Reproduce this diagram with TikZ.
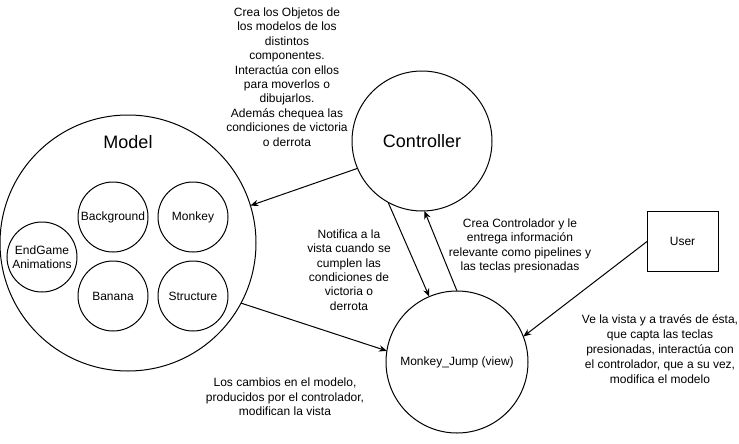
\documentclass[tikz,border=0pt]{standalone}
\usepackage{fontspec}
\setmainfont{Liberation Sans}
\usetikzlibrary{arrows.meta}
\begin{document}
\begin{tikzpicture}[x=0.75pt,y=-0.75pt,
  every node/.style={inner sep=0pt,outer sep=0pt},
  ln/.style={line width=0.75pt,draw=black},
  arr/.style={ln,-{Stealth[length=6pt,width=4.8pt]}},
  bigcircle/.style={circle,ln,font=\fontsize{13.5}{16}\selectfont},
  smallcircle/.style={circle,ln,minimum size=52.5pt,font=\fontsize{9}{10.8}\selectfont,align=center},
  note/.style={align=center,font=\fontsize{9}{10.8}\selectfont}]
\useasboundingbox (0,0) rectangle (739,443);
% Model
\node[circle,ln,minimum size=192pt] (model) at (128,243) {};
\node[font=\fontsize{13.5}{16}\selectfont] (modeltxt) at (128,142) {Model};
\node[smallcircle] (bg) at (113,217) {Background};
\node[smallcircle] (monkey) at (193,217) {Monkey};
\node[smallcircle] (banana) at (113,296) {Banana};
\node[smallcircle] (structure) at (193,296) {Structure};
\node[smallcircle] (endgame) at (42,257) {EndGame\\Animations};
% Controller
\node[bigcircle,minimum size=105pt] (ctrl) at (422,141) {Controller};
% View
\node[circle,ln,minimum size=106.5pt,font=\fontsize{9}{10.8}\selectfont] (view) at (457,362) {Monkey\_Jump (view)};
% User
\node[rectangle,ln,minimum width=53.25pt,minimum height=45pt,font=\fontsize{9}{10.8}\selectfont] (user) at (682.5,241.5) {User};
% Notes
\node[note] (n1) at (287,77) {Crea los Objetos de\\los modelos de los\\distintos\\componentes.\\Interactúa con ellos\\para moverlos o\\dibujarlos.\\Además chequea las\\condiciones de victoria\\o derrota};
\node[note] (n2) at (349,270) {Notifica a la\\vista cuando se\\cumplen las\\condiciones de\\victoria o\\derrota};
\node[note] (n3) at (520,246) {Crea Controlador y le\\entrega información\\relevante como pipelines y\\las teclas presionadas};
\node[note,font=\fontsize{9}{11.2}\selectfont] (n4) at (660,349) {Ve la vista y a través de ésta,\\que capta las teclas\\presionadas, interactúa con\\el controlador, que a su vez,\\modifica el modelo};
\node[note] (n5) at (285,397) {Los cambios en el modelo,\\producidos por el controlador,\\modifican la vista};
% Connectors
\draw[arr] (ctrl.203.6) -- (model.17.5);
\draw[arr] (ctrl.241.5) -- (view.113.7);
\draw[arr] (view.90) -- (ctrl.272.4);
\draw[arr] (model.332.5) -- (view.171);
\draw[arr] (user.west) -- (view.21.7);
\end{tikzpicture}
\end{document}
